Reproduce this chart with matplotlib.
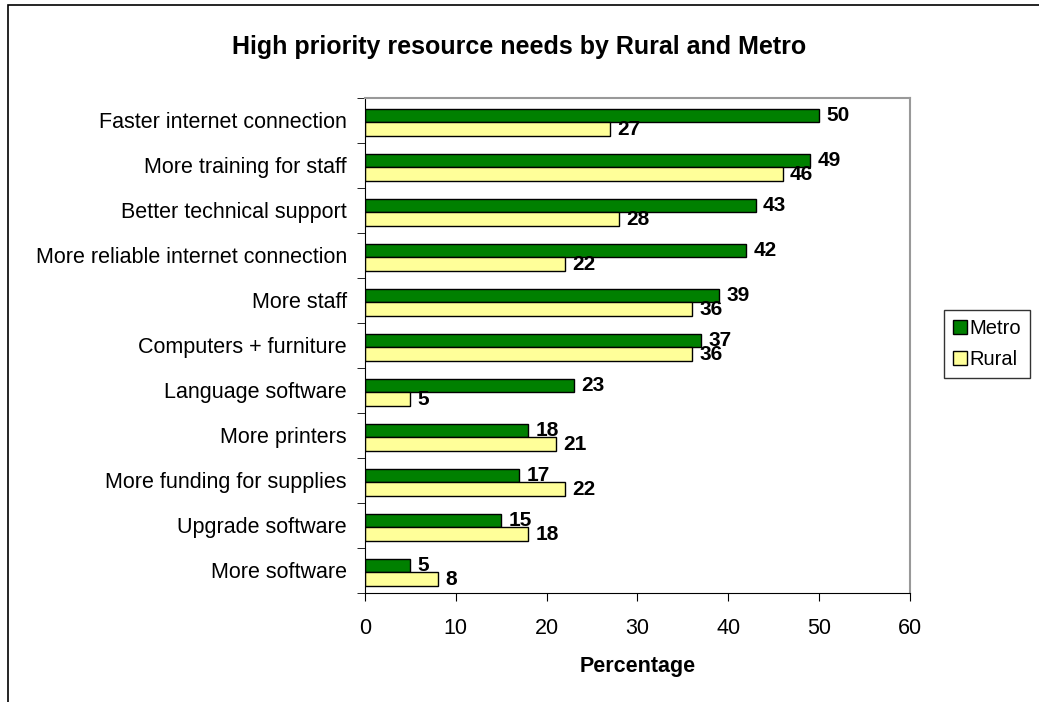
import numpy as np
import matplotlib.pyplot as plt
from matplotlib.patches import Rectangle

plt.rcParams['font.family'] = ['Liberation Sans', 'DejaVu Sans']

# data (top to bottom)
needs = ['Faster internet connection', 'More training for staff', 'Better technical support',
         'More reliable internet connection', 'More staff', 'Computers + furniture',
         'Language software', 'More printers', 'More funding for supplies',
         'Upgrade software', 'More software']
metro = [50, 49, 43, 42, 39, 37, 23, 18, 17, 15, 5]
rural = [27, 46, 28, 22, 36, 36, 5, 21, 22, 18, 8]

fs = 15.5

fig = plt.figure(figsize=(10.39, 7.02), dpi=100)
ax = fig.add_axes([0.3513, 0.1553, 0.8758 - 0.3513, 0.8604 - 0.1553])

y = np.arange(len(needs))
h = 0.30
b1 = ax.barh(y - h / 2 + 0.04, metro, height=h, color='#008000', edgecolor='black', linewidth=1, label='Metro')
b2 = ax.barh(y + h / 2 + 0.04, rural, height=h, color='#FFFF99', edgecolor='black', linewidth=1, label='Rural')

for bars, vals in ((b1, metro), (b2, rural)):
    for bar, v in zip(bars, vals):
        ax.text(bar.get_width() + 0.8, bar.get_y() + bar.get_height() / 2, '%d' % v,
                va='center', ha='left', fontsize=15, fontweight='bold')

ax.set_ylim(len(needs) - 0.5, -0.5)
ax.set_xlim(0, 60)
ax.set_xticks(range(0, 61, 10))
ax.set_yticks(y)
ax.set_yticklabels(needs, fontsize=fs)
ax.tick_params(axis='y', which='major', length=0, pad=13)
ax.set_yticks(np.arange(-0.5, len(needs), 1), minor=True)
ax.tick_params(axis='y', which='minor', length=6, direction='out', color='black')
ax.tick_params(axis='x', labelsize=fs, length=6, direction='out', pad=12)

ax.spines['top'].set_color('#999999')
ax.spines['right'].set_color('#999999')
ax.spines['top'].set_linewidth(1.5)
ax.spines['right'].set_linewidth(1.5)

ax.set_xlabel('Percentage', fontsize=fs, fontweight='bold', labelpad=12)
fig.text(0.5, 0.933, 'High priority resource needs by Rural and Metro', ha='center', va='center',
         fontsize=18, fontweight='bold')

leg = fig.legend(handles=[b1, b2], loc='upper left', bbox_to_anchor=(0.9086, 0.558),
                 frameon=True, fancybox=False, edgecolor='black', fontsize=14.5,
                 handlelength=0.7, handleheight=0.7, handletextpad=0.1, borderpad=0.45,
                 labelspacing=0.6, borderaxespad=0)
leg.get_frame().set_linewidth(1)

# chart border
fig.patches.append(Rectangle((8 / 1039, -0.1), 1.2, 1 - 5 / 702 + 0.1, transform=fig.transFigure,
                             fill=False, edgecolor='black', linewidth=1.2))

fig.savefig('out.png', dpi=100)
